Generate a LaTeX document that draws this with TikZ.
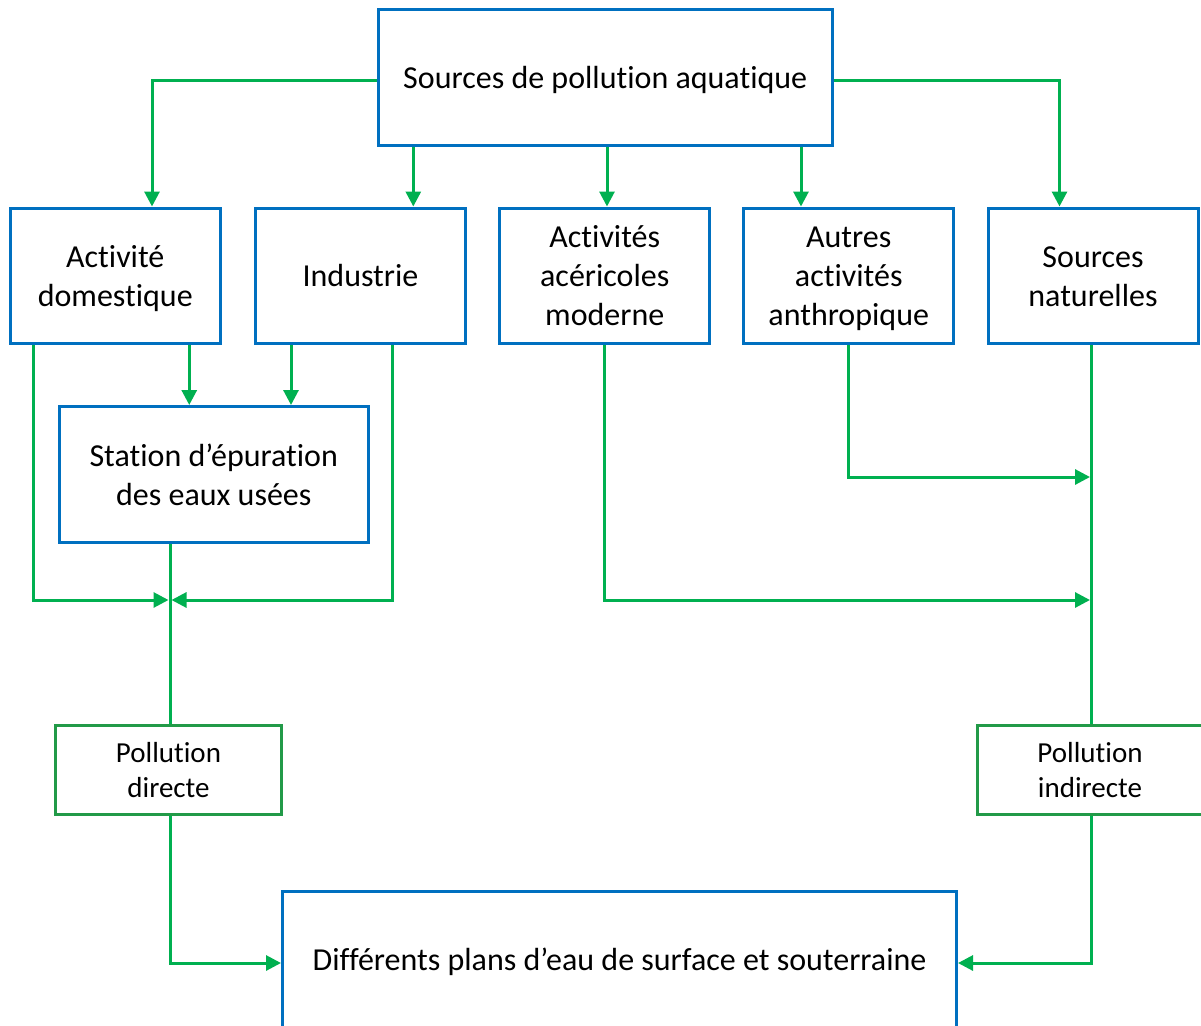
\documentclass[tikz,border=0pt]{standalone}
\usepackage{fontspec}
\setmainfont{Carlito}[RawFeature={-liga;-clig;-calt;-dlig}]
\usetikzlibrary{arrows.meta}
\definecolor{bblue}{RGB}{0,112,192}
\definecolor{lgreen}{RGB}{0,176,80}
\definecolor{dgreen}{RGB}{34,154,72}
\newcommand\vs{\rule[-0.25em]{0pt}{1.2em}}
\begin{document}
\begin{tikzpicture}[x=1pt,y=-1pt,
 box/.style={draw=bblue, line width=3pt, rectangle, inner sep=0pt, minimum width=210pt, minimum height=135.5pt, align=center, font=\fontsize{32}{39}\selectfont},
 pbox/.style={draw=dgreen, line width=3pt, rectangle, inner sep=0pt, minimum width=226pt, minimum height=89.5pt, align=center, font=\fontsize{29}{35}\selectfont},
 arr/.style={draw=lgreen, line width=3pt, -{Triangle[length=15pt,width=15pt]}},
 ln/.style={draw=lgreen, line width=3pt}]
\useasboundingbox (0,0) rectangle (1201,1025);
\fill[white] (0,0) rectangle (1201,1025);
% nodes
\node[box, minimum width=453.5pt, minimum height=135pt] (top) at (605.25,77.5) {\vs Sources de pollution aquatique\vs};
\node[box] (ad) at (115.25,275.75) {\vs Activité\vs\\\vs domestique\vs};
\node[box] (ind) at (360.5,275.75) {\vs Industrie\vs};
\node[box] (ac) at (604.75,275.75) {\vs Activités\vs\\\vs acéricoles\vs\\\vs moderne\vs};
\node[box] (au) at (848.75,275.75) {\vs Autres\vs\\\vs activités\vs\\\vs anthropique\vs};
\node[box] (sn) at (1093,275.75) {\vs Sources\vs\\\vs naturelles\vs};
\node[box, minimum width=309.5pt, minimum height=136pt] (st) at (213.75,474.5) {\vs Station d’épuration\vs\\\vs des eaux usées\vs};
\node[pbox] (pd) at (168.5,769.75) {\vs Pollution\vs\\\vs directe\vs};
\node[pbox] (pi) at (1090,770) {\vs Pollution\vs\\\vs indirecte\vs};
\node[box, minimum width=674pt, minimum height=136pt] (bot) at (619.5,959) {\vs Différents plans d’eau de surface et souterraine\vs};
% junction coordinates
\coordinate (jd) at (170,600);
\coordinate (ja) at (1091.5,477);
\coordinate (jb) at (1091.5,600);
% top connectors
\draw[arr] ([yshift=-2.5pt]top.west) -| ([xshift=36.75pt]ad.north);
\draw[arr] ([xshift=52.8pt]ind.north |- top.south) -- ([xshift=52.8pt]ind.north);
\draw[arr] ([xshift=2.25pt]ac.north |- top.south) -- ([xshift=2.25pt]ac.north);
\draw[arr] ([xshift=-47.75pt]au.north |- top.south) -- ([xshift=-47.75pt]au.north);
\draw[arr] ([yshift=-2.5pt]top.east) -| ([xshift=-33.5pt]sn.north);
% to station
\draw[arr] ([xshift=74pt]ad.south) -- ([xshift=74pt]ad.south |- st.north);
\draw[arr] ([xshift=-69.5pt]ind.south) -- ([xshift=-69.5pt]ind.south |- st.north);
% direct side
\draw[arr] ([xshift=-81.75pt]ad.south) |- ([xshift=-1.5pt]jd);
\draw[arr] ([xshift=31.5pt]ind.south) |- ([xshift=1.5pt]jd);
\draw[ln] ([xshift=-43.75pt]st.south) -- ([xshift=-43.75pt]st.south |- pd.north);
\draw[arr] ([xshift=1.5pt]pd.south) |- ([yshift=-4pt]bot.west);
% indirect side
\draw[arr] (au.south) |- ([xshift=-1.5pt]ja);
\draw[arr] (ac.south) |- ([xshift=-1.5pt]jb);
\draw[ln] ([xshift=-1.5pt]sn.south) -- ([xshift=-1.5pt]sn.south |- pi.north);
\draw[arr] ([xshift=1.5pt]pi.south) |- ([yshift=-4pt]bot.east);
\end{tikzpicture}
\end{document}
